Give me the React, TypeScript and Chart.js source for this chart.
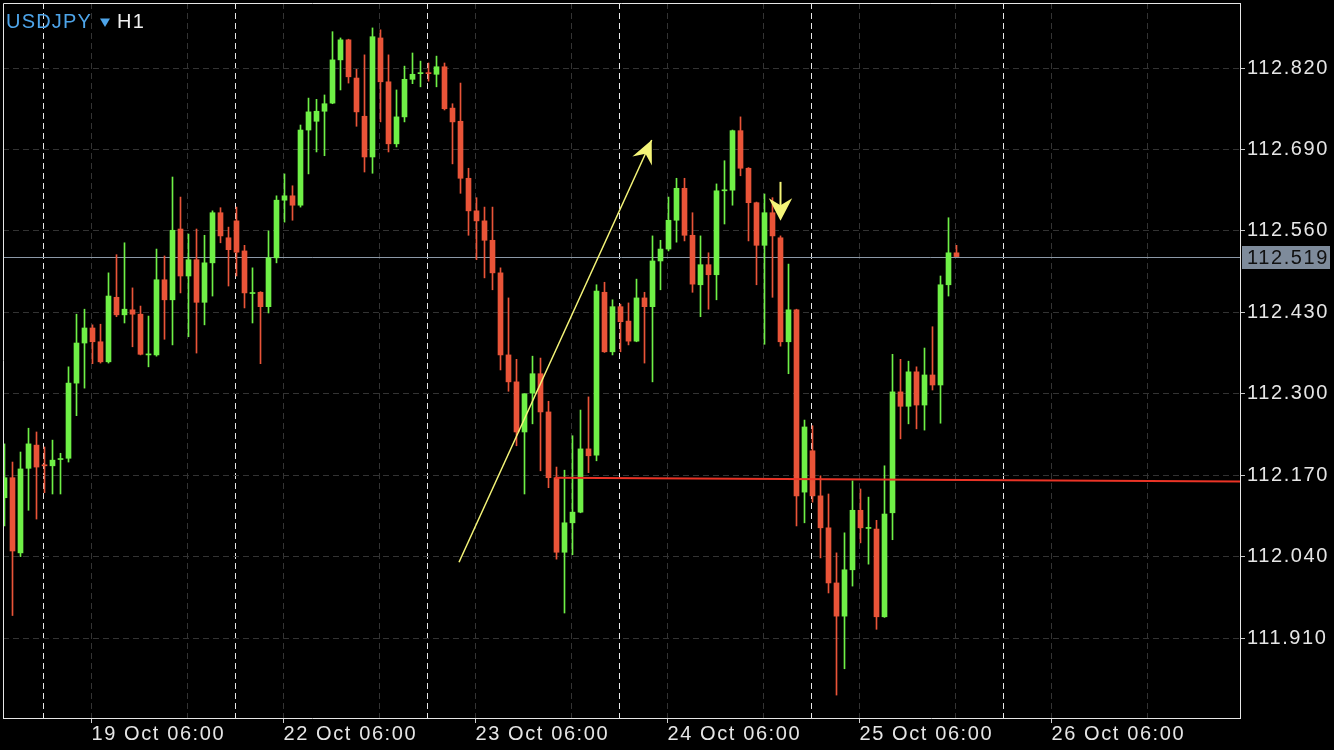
import React, { useEffect, useRef } from 'react';
import { Chart, registerables } from 'chart.js';

Chart.register(...registerables);

// ---- Data (USDJPY H1), one value per hourly candle ----
const opens = [
  112.134, 112.166, 112.046, 112.181, 112.218, 112.186, 112.185, 112.195, 112.197, 112.317,
  112.381, 112.405, 112.383, 112.351, 112.454, 112.426, 112.434, 112.427, 112.362, 112.362,
  112.482, 112.450, 112.563, 112.488, 112.514, 112.446, 112.509, 112.589, 112.549, 112.576,
  112.528, 112.460, 112.462, 112.439, 112.517, 112.609, 112.616, 112.601, 112.721, 112.735,
  112.751, 112.764, 112.833, 112.865, 112.804, 112.743, 112.678, 112.868, 112.798, 112.699,
  112.742, 112.802, 112.811, 112.812, 112.810, 112.822, 112.756, 112.735, 112.644, 112.592,
  112.576, 112.545, 112.493, 112.362, 112.319, 112.239, 112.301, 112.332, 112.271, 112.166,
  112.047, 112.094, 112.111, 112.212, 112.202, 112.462, 112.367, 112.439, 112.416, 112.384,
  112.453, 112.439, 112.512, 112.531, 112.577, 112.628, 112.553, 112.474, 112.506, 112.490,
  112.624, 112.625, 112.720, 112.660, 112.605, 112.537, 112.589, 112.549, 112.383, 112.434,
  112.143, 112.209, 112.137, 112.086, 111.998, 111.945, 112.019, 112.114, 112.085, 112.084,
  111.944, 112.110, 112.303, 112.280, 112.335, 112.282, 112.330, 112.314, 112.474, 112.525,
];
const highs = [
  112.220, 112.191, 112.207, 112.245, 112.239, 112.215, 112.226, 112.205, 112.343, 112.427,
  112.435, 112.410, 112.411, 112.493, 112.522, 112.541, 112.469, 112.440, 112.424, 112.531,
  112.520, 112.646, 112.614, 112.555, 112.563, 112.553, 112.592, 112.597, 112.566, 112.598,
  112.537, 112.501, 112.463, 112.560, 112.616, 112.651, 112.632, 112.729, 112.772, 112.770,
  112.777, 112.878, 112.868, 112.866, 112.818, 112.841, 112.884, 112.881, 112.841, 112.785,
  112.823, 112.844, 112.831, 112.828, 112.839, 112.828, 112.763, 112.796, 112.660, 112.613,
  112.598, 112.598, 112.501, 112.453, 112.355, 112.300, 112.360, 112.357, 112.288, 112.183,
  112.178, 112.233, 112.274, 112.295, 112.474, 112.478, 112.450, 112.443, 112.445, 112.483,
  112.462, 112.552, 112.545, 112.614, 112.644, 112.644, 112.589, 112.552, 112.525, 112.635,
  112.672, 112.721, 112.742, 112.661, 112.606, 112.619, 112.613, 112.552, 112.507, 112.435,
  112.258, 112.249, 112.169, 112.140, 112.046, 112.078, 112.161, 112.148, 112.135, 112.098,
  112.185, 112.363, 112.355, 112.352, 112.343, 112.373, 112.407, 112.488, 112.581, 112.537,
];
const lows = [
  112.089, 111.946, 112.040, 112.114, 112.100, 112.142, 112.140, 112.140, 112.191, 112.265,
  112.309, 112.348, 112.349, 112.349, 112.423, 112.413, 112.375, 112.362, 112.343, 112.360,
  112.387, 112.378, 112.461, 112.391, 112.365, 112.410, 112.456, 112.541, 112.472, 112.488,
  112.437, 112.413, 112.348, 112.429, 112.509, 112.574, 112.577, 112.598, 112.651, 112.686,
  112.680, 112.763, 112.785, 112.796, 112.727, 112.654, 112.652, 112.734, 112.686, 112.694,
  112.734, 112.795, 112.790, 112.799, 112.790, 112.753, 112.667, 112.620, 112.553, 112.514,
  112.485, 112.466, 112.338, 112.304, 112.217, 112.140, 112.252, 112.177, 112.150, 112.036,
  111.950, 112.043, 112.110, 112.174, 112.193, 112.366, 112.362, 112.367, 112.378, 112.383,
  112.349, 112.319, 112.466, 112.528, 112.542, 112.544, 112.462, 112.423, 112.435, 112.450,
  112.571, 112.601, 112.648, 112.544, 112.474, 112.379, 112.454, 112.376, 112.332, 112.089,
  112.094, 112.127, 112.038, 111.982, 111.819, 111.861, 111.993, 112.062, 112.028, 111.924,
  111.943, 112.067, 112.228, 112.252, 112.244, 112.242, 112.306, 112.253, 112.456, 112.519,
];
const closes = [
  112.166, 112.049, 112.180, 112.220, 112.183, 112.185, 112.194, 112.196, 112.317, 112.381,
  112.405, 112.383, 112.351, 112.456, 112.426, 112.435, 112.427, 112.363, 112.363, 112.482,
  112.450, 112.561, 112.488, 112.514, 112.446, 112.509, 112.589, 112.552, 112.530, 112.526,
  112.461, 112.461, 112.439, 112.517, 112.609, 112.616, 112.601, 112.721, 112.750, 112.751,
  112.763, 112.833, 112.865, 112.806, 112.750, 112.678, 112.870, 112.798, 112.699, 112.742,
  112.802, 112.810, 112.812, 112.811, 112.822, 112.755, 112.734, 112.644, 112.592, 112.576,
  112.545, 112.493, 112.362, 112.319, 112.239, 112.300, 112.332, 112.271, 112.166, 112.047,
  112.094, 112.111, 112.212, 112.201, 112.464, 112.367, 112.439, 112.415, 112.384, 112.453,
  112.439, 112.512, 112.531, 112.577, 112.628, 112.553, 112.475, 112.506, 112.490, 112.624,
  112.625, 112.720, 112.660, 112.605, 112.537, 112.589, 112.552, 112.383, 112.434, 112.137,
  112.247, 112.137, 112.086, 111.998, 111.945, 112.019, 112.114, 112.086, 112.086, 111.944,
  112.108, 112.303, 112.280, 112.335, 112.282, 112.330, 112.314, 112.474, 112.525, 112.519,
];

const priceTicks = [111.91, 112.04, 112.17, 112.3, 112.43, 112.56, 112.69, 112.82];
const timeLabelBars = [11, 35, 59, 83, 107, 131];
const timeLabels = ['19 Oct 06:00', '22 Oct 06:00', '23 Oct 06:00', '24 Oct 06:00', '25 Oct 06:00', '26 Oct 06:00'];
const gridBars = [11, 23, 35, 47, 59, 71, 83, 95, 107, 119, 131, 143];
const daySeparatorBars = [5, 29, 53, 77, 101, 125];

const lastPrice = 112.519;
const trendLineX = [68.8, 154.44];
const trendLineY = [112.166, 112.16];
const upArrowX = [56.81, 80.9];
const upArrowY = [112.031, 112.705];
const downArrowX = [97];
const downArrowY = [112.576];
const symbolName = 'USDJPY';
const timeframeName = 'H1';

// ---- view range / styling ----
const X_MIN = -0.1875;
const X_MAX = 154.4375;
const Y_MIN = 111.7824;
const Y_MAX = 112.9238;
const GREEN = '#6ff046';
const RED = '#e95438';
const YELLOW = '#f5f578';
const FONT = '"Liberation Sans", Arial, Helvetica, sans-serif';
const LINE_OFF = 0.125; // grid lines sit 1px left of the candle centre

const xTickValues = [...gridBars, ...daySeparatorBars].sort((a, b) => a - b).map((b) => b - LINE_OFF);

const barOf = (v: number) => Math.round(v + LINE_OFF);

const mt4Plugin = {
  id: 'mt4',
  beforeDraw(chart: any) {
    const { ctx } = chart;
    ctx.save();
    ctx.fillStyle = '#000';
    ctx.fillRect(0, 0, chart.width, chart.height);
    ctx.restore();
    ctx.letterSpacing = '1.6px';
  },
  beforeDatasetsDraw(chart: any) {
    const { ctx, chartArea, scales } = chart;
    const y = Math.round(scales.y.getPixelForValue(lastPrice)) + 0.5;
    ctx.save();
    ctx.strokeStyle = '#8c99a8';
    ctx.lineWidth = 1;
    ctx.beginPath();
    ctx.moveTo(chartArea.left, y);
    ctx.lineTo(chartArea.right, y);
    ctx.stroke();
    ctx.restore();
  },
  afterDatasetsDraw(chart: any) {
    const { ctx, chartArea, scales } = chart;
    const sx = scales.x, sy = scales.y;
    ctx.save();
    ctx.beginPath();
    ctx.rect(chartArea.left, chartArea.top, chartArea.right - chartArea.left, chartArea.bottom - chartArea.top);
    ctx.clip();
    // up-arrow head
    const x0 = sx.getPixelForValue(upArrowX[0]), y0 = sy.getPixelForValue(upArrowY[0]);
    const x1 = sx.getPixelForValue(upArrowX[1]), y1 = sy.getPixelForValue(upArrowY[1]);
    const len = Math.hypot(x1 - x0, y1 - y0);
    const ux = (x1 - x0) / len, uy = (y1 - y0) / len;
    const nx = -uy, ny = ux;
    ctx.fillStyle = YELLOW;
    ctx.beginPath();
    ctx.moveTo(x1, y1);
    ctx.lineTo(x1 - ux * 23 + nx * 10.7, y1 - uy * 23 + ny * 10.7);
    ctx.lineTo(x1 - ux * 15, y1 - uy * 15);
    ctx.lineTo(x1 - ux * 23 - nx * 10.7, y1 - uy * 23 - ny * 10.7);
    ctx.closePath();
    ctx.fill();
    // down arrow
    for (let i = 0; i < downArrowX.length; i++) {
      const cx = sx.getPixelForValue(downArrowX[i]);
      const ty = sy.getPixelForValue(downArrowY[i]);
      ctx.fillRect(cx - 1, ty - 39, 2, 24);
      ctx.beginPath();
      ctx.moveTo(cx, ty);
      ctx.lineTo(cx - 11.7, ty - 22.7);
      ctx.lineTo(cx, ty - 15.5);
      ctx.lineTo(cx + 11.7, ty - 22.7);
      ctx.closePath();
      ctx.fill();
    }
    ctx.restore();
    // frame (top and left)
    ctx.save();
    ctx.strokeStyle = '#e6e6e6';
    ctx.lineWidth = 1;
    ctx.beginPath();
    ctx.moveTo(chartArea.left + 0.5, chartArea.bottom);
    ctx.lineTo(chartArea.left + 0.5, chartArea.top + 0.5);
    ctx.lineTo(chartArea.right, chartArea.top + 0.5);
    ctx.stroke();
    ctx.restore();
  },
  afterDraw(chart: any) {
    const { ctx, chartArea, scales } = chart;
    const y = Math.round(scales.y.getPixelForValue(lastPrice)) + 0.5;
    ctx.save();
    ctx.fillStyle = '#7e8b9b';
    ctx.fillRect(chartArea.right + 2, Math.round(y - 12), 88, 23);
    ctx.fillStyle = '#111';
    ctx.font = `20px ${FONT}`;
    ctx.textBaseline = 'middle';
    ctx.textAlign = 'left';
    ctx.fillText(lastPrice.toFixed(3), chartArea.right + 7, y + 0.5);
    // title
    ctx.textBaseline = 'alphabetic';
    ctx.font = `20px ${FONT}`;
    ctx.fillStyle = '#4ea5ea';
    ctx.letterSpacing = '1.2px';
    ctx.fillText(symbolName, 6, 28);
    ctx.beginPath();
    ctx.moveTo(100, 18.5);
    ctx.lineTo(110, 18.5);
    ctx.lineTo(105, 27);
    ctx.closePath();
    ctx.fill();
    ctx.fillStyle = '#f0f0f0';
    ctx.fillText(timeframeName, 117, 28);
    ctx.restore();
    ctx.letterSpacing = '0px';
  },
};

export default function App() {
  const ref = useRef<HTMLCanvasElement | null>(null);

  useEffect(() => {
    const canvas = ref.current;
    if (!canvas) return;
    const colors = closes.map((c, i) => (c >= opens[i] ? GREEN : RED));
    const chart = new Chart(canvas, {
      type: 'bar',
      data: {
        datasets: [
          {
            type: 'line',
            data: trendLineX.map((x, i) => ({ x, y: trendLineY[i] })),
            borderColor: '#ea3426',
            borderWidth: 2,
            pointRadius: 0,
            order: 0,
          } as any,
          {
            type: 'line',
            data: upArrowX.map((x, i) => ({ x, y: upArrowY[i] })),
            borderColor: YELLOW,
            borderWidth: 1.5,
            pointRadius: 0,
            order: 0,
          } as any,
          {
            type: 'bar',
            data: opens.map((o, i) => ({ x: i, y: [o, closes[i]] })),
            backgroundColor: colors,
            borderWidth: 0,
            grouped: false,
            maxBarThickness: 5,
            barPercentage: 1,
            categoryPercentage: 1,
            minBarLength: 1,
            order: 1,
          } as any,
          {
            type: 'bar',
            data: lows.map((l, i) => ({ x: i, y: [l, highs[i]] })),
            backgroundColor: colors,
            borderWidth: 0,
            grouped: false,
            maxBarThickness: 1,
            barPercentage: 1,
            categoryPercentage: 1,
            order: 2,
          } as any,
        ],
      },
      options: {
        responsive: false,
        animation: false,
        devicePixelRatio: 1,
        events: [],
        layout: { padding: { left: 3, top: 3, right: 0, bottom: 0 } },
        plugins: { legend: { display: false }, tooltip: { enabled: false }, title: { display: false } },
        scales: {
          x: {
            type: 'linear',
            position: 'bottom',
            min: X_MIN,
            max: X_MAX,
            bounds: 'data',
            offset: false,
            grid: {
              offset: false,
              lineWidth: 1,
              color: (c: any) => (c.tick && daySeparatorBars.includes(barOf(c.tick.value)) ? '#e6e6e6' : '#333333'),
              drawTicks: true,
              tickLength: 5,
              tickColor: (c: any) => (c.tick && timeLabelBars.includes(barOf(c.tick.value)) ? '#d0d0d0' : 'rgba(0,0,0,0)'),
              tickBorderDash: [],
            },
            border: { display: true, color: '#e6e6e6', width: 1, dash: [6, 4] },
            ticks: {
              autoSkip: false,
              maxRotation: 0,
              minRotation: 0,
              align: 'start',
              padding: -1,
              color: '#e6e6e6',
              font: { family: FONT, size: 20 },
              callback: (v: any) => {
                const k = timeLabelBars.indexOf(barOf(Number(v)));
                return k >= 0 ? timeLabels[k] : '';
              },
            },
            afterBuildTicks: (s: any) => {
              s.ticks = xTickValues.map((value) => ({ value }));
            },
            afterFit: (s: any) => {
              s.height = 32;
              s.paddingLeft = 0;
              s.paddingRight = 0;
              s.paddingTop = 0;
              s.paddingBottom = 0;
            },
          },
          y: {
            type: 'linear',
            position: 'right',
            min: Y_MIN,
            max: Y_MAX,
            bounds: 'data',
            grid: {
              color: '#333333',
              lineWidth: 1,
              drawTicks: true,
              tickLength: 5,
              tickColor: '#c8c8c8',
              tickBorderDash: [],
            },
            border: { display: true, color: '#e6e6e6', width: 1, dash: [6, 4] },
            ticks: {
              autoSkip: false,
              padding: 2,
              color: '#e6e6e6',
              font: { family: FONT, size: 20 },
              callback: (v: any) => Number(v).toFixed(3),
            },
            afterBuildTicks: (s: any) => {
              s.ticks = priceTicks.map((value) => ({ value }));
            },
            afterFit: (s: any) => {
              s.width = 94;
              s.paddingLeft = 0;
              s.paddingRight = 0;
              s.paddingTop = 0;
              s.paddingBottom = 0;
            },
          },
        },
      } as any,
      plugins: [mt4Plugin],
    });
    return () => chart.destroy();
  }, []);

  return (
    <div style={{ position: 'fixed', left: 0, top: 0, width: 1334, height: 750, background: '#000' }}>
      <canvas ref={ref} width={1334} height={750} style={{ width: 1334, height: 750, display: 'block' }} />
    </div>
  );
}
